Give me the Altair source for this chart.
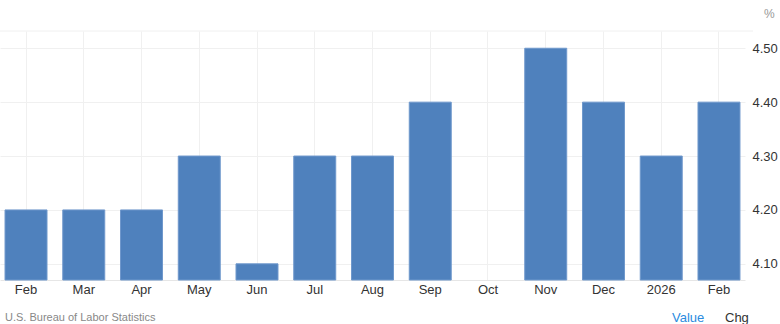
import altair as alt
import pandas as pd

keys = ["2025-02", "2025-03", "2025-04", "2025-05", "2025-06", "2025-07", "2025-08",
        "2025-09", "2025-10", "2025-11", "2025-12", "2026-01", "2026-02"]
labels = ["Feb", "Mar", "Apr", "May", "Jun", "Jul", "Aug", "Sep", "Oct", "Nov", "Dec", "2026", "Feb"]
values = [4.2, 4.2, 4.2, 4.3, 4.1, 4.3, 4.3, 4.4, None, 4.5, 4.4, 4.3, 4.4]
y_ticks = [4.1, 4.2, 4.3, 4.4, 4.5]
y_min, y_max = 4.07, 4.532

df = pd.DataFrame({"key": keys, "label": labels, "value": values})
bars_df = df.dropna()

label_map = "{" + ",".join(f"'{k}':'{l}'" for k, l in zip(keys, labels)) + "}"

FONT = "Liberation Sans"
W, H = 745, 249

x = alt.X("key:N", sort=keys,
          scale=alt.Scale(domain=keys, paddingInner=0.273, paddingOuter=0.087),
          axis=alt.Axis(title=None, labelExpr=f"{label_map}[datum.value]", labelAngle=0,
                        ticks=False, labelPadding=3, labelFontSize=13, labelColor="#333333",
                        labelFont=FONT, domainColor="#e6e6e6", grid=True, gridColor="#f0f0f0",
                        bandPosition=0.5))
y = alt.Y("value:Q", scale=alt.Scale(domain=[y_min, y_max], zero=False, nice=False),
          axis=alt.Axis(title=None, orient="right", values=y_ticks, format=".2f",
                        domain=False, ticks=False, labelPadding=7, labelFontSize=13,
                        labelColor="#333333", labelFont=FONT, gridColor="#f0f0f0"))

bars = alt.Chart(bars_df).mark_bar(color="#4F81BD", stroke="#6f98cc", strokeWidth=1).encode(
    x=x, y=y, y2=alt.datum(y_min))

top_rule = alt.Chart(pd.DataFrame({"a": [0]})).mark_rule(color="#f0f0f0").encode(
    x=alt.value(0), x2=alt.value(W + 8), y=alt.value(0))

pct = alt.Chart(pd.DataFrame({"t": ["%"]})).mark_text(
    font=FONT, fontSize=12, color="#999999", align="left", baseline="middle").encode(
    text="t:N", x=alt.value(764), y=alt.value(14 - 31))
src = alt.Chart(pd.DataFrame({"t": ["U.S. Bureau of Labor Statistics"]})).mark_text(
    font=FONT, fontSize=11, color="#888888", align="left", baseline="middle").encode(
    text="t:N", x=alt.value(5), y=alt.value(318 - 31))
val = alt.Chart(pd.DataFrame({"t": ["Value"]})).mark_text(
    font=FONT, fontSize=13, color="#2a8be0", align="left", baseline="middle").encode(
    text="t:N", x=alt.value(672), y=alt.value(318 - 31))
chg = alt.Chart(pd.DataFrame({"t": ["Chg"]})).mark_text(
    font=FONT, fontSize=13, color="#333333", align="left", baseline="middle").encode(
    text="t:N", x=alt.value(725), y=alt.value(318 - 31))

chart = alt.layer(top_rule, bars, pct, src, val, chg).properties(
    width=W, height=H,
    autosize=alt.AutoSizeParams(type="none"),
    padding={"left": 0, "top": 31, "right": 780 - W, "bottom": 324 - 31 - H},
    background="white",
).configure_view(stroke=None)

chart.save("out.html", embed_options={"renderer": "svg", "actions": False})
